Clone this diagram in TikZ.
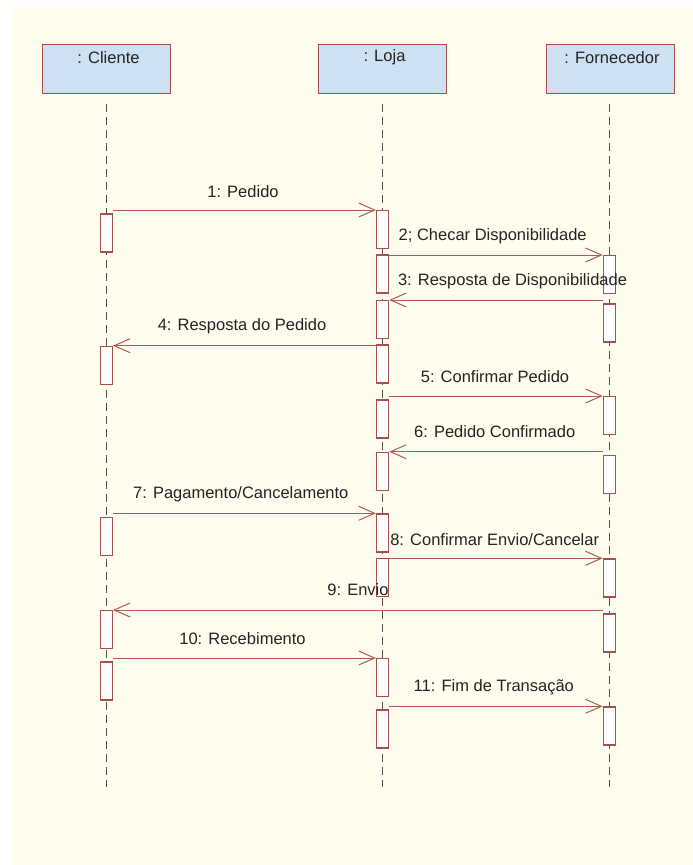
\documentclass[tikz,border=0pt]{standalone}
\usepackage{fontspec}
\setmainfont{Liberation Sans}
\usetikzlibrary{arrows.meta,calc}
\definecolor{bgcream}{RGB}{255,253,238}
\definecolor{headblue}{RGB}{206,225,242}
\definecolor{boxred}{RGB}{168,78,78}
\definecolor{msgred}{RGB}{178,88,88}
\definecolor{lifegray}{RGB}{80,80,80}
\definecolor{txtgray}{RGB}{35,35,35}
\begin{document}
\begin{tikzpicture}[x=1pt,y=-1pt,
  headbox/.style={draw=boxred, fill=headblue, line width=1pt, minimum width=128pt, minimum height=49pt, inner sep=0pt, anchor=north west},
  headtext/.style={font=\fontsize{16.5}{20}\selectfont, text=txtgray, inner sep=0pt},
  actbox/.style={draw=boxred, fill=white, line width=1.2pt, minimum width=12pt, minimum height=38pt, inner sep=0pt, anchor=north},
  lifeline/.style={draw=lifegray, line width=1pt, dash pattern=on 8pt off 5pt},
  msg/.style={draw=msgred, line width=1pt, -{Straight Barb[length=16pt,width=14pt]}},
  msglabel/.style={font=\fontsize{16.5}{20}\selectfont, text=txtgray, inner sep=0pt}
]
\useasboundingbox (0,0) rectangle (693,865);
\fill[bgcream] (11,7) rectangle (693,865);

% heads
\node[headbox] (h1) at (42,44) {};
\node[headbox] (h2) at (318,44) {};
\node[headbox] (h3) at (545.5,44) {};
\node[headtext] (t1) at ($(h1.north)+(2,13.3)$) {: Cliente};
\node[headtext] (t2) at ($(h2.north)+(2,13.3)$) {: Loja};
\node[headtext] (t3) at ($(h3.north)+(2,13.3)$) {: Fornecedor};

% lifelines
\coordinate (e1) at (106.5,787);
\coordinate (e2) at (382.5,787);
\coordinate (e3) at (609.5,787);
\coordinate (s1) at (106.5,103.5);
\coordinate (s2) at (382.5,103.5);
\coordinate (s3) at (609.5,103.5);
\draw[lifeline] (s1) -- (e1);
\draw[lifeline] (s2) -- (e2);
\draw[lifeline] (s3) -- (e3);

% activation boxes: Cliente
\node[actbox] (c1) at (106.3,213.3) {};
\node[actbox] (c2) at (106.3,345.7) {};
\node[actbox] (c3) at (106.3,516.7) {};
\node[actbox] (c4) at (106.3,610) {};
\node[actbox] (c5) at (106.3,661.3) {};
% Loja
\node[actbox] (l1) at (382.5,210) {};
\node[actbox] (l2) at (382.5,254.3) {};
\node[actbox] (l3) at (382.5,300) {};
\node[actbox] (l4) at (382.5,344.3) {};
\node[actbox] (l5) at (382.5,399.3) {};
\node[actbox] (l6) at (382.5,451.7) {};
\node[actbox] (l7) at (382.5,513.3) {};
\node[actbox] (l8) at (382.5,557.7) {};
\node[actbox] (l9) at (382.5,658) {};
\node[actbox] (l10) at (382.5,709.3) {};
% Fornecedor
\node[actbox] (f1) at (609.3,255) {};
\node[actbox] (f2) at (609.3,303.3) {};
\node[actbox] (f3) at (609.3,396) {};
\node[actbox] (f4) at (609.3,454.7) {};
\node[actbox] (f5) at (609.3,558.3) {};
\node[actbox] (f6) at (609.3,613.3) {};
\node[actbox] (f7) at (609.3,706.3) {};

% messages
\draw[msg] (l1.north west -| c1.east) -- (l1.north west);
\draw[msg] (f1.north west -| l2.east) -- (f1.north west);
\draw[msg] (l3.north east -| f2.west) -- (l3.north east);
\draw[msg] (c2.north east -| l4.west) -- (c2.north east);
\draw[msg] (f3.north west -| l5.east) -- (f3.north west);
\draw[msg] (l6.north east -| f4.west) -- (l6.north east);
\draw[msg] (l7.north west -| c3.east) -- (l7.north west);
\draw[msg] (f5.north west -| l8.east) -- (f5.north west);
\draw[msg] (c4.north east -| f6.west) -- (c4.north east);
\draw[msg] (l9.north west -| c5.east) -- (l9.north west);
\draw[msg] (f7.north west -| l10.east) -- (f7.north west);

% labels
\node[msglabel] (m1) at (243,191.7) {1: Pedido};
\node[msglabel] (m2) at (492.7,236.7) {2; Checar Disponibilidade};
\node[msglabel] (m3) at (512.5,281.7) {3: Resposta de Disponibilidade};
\node[msglabel] (m4) at (242,326) {4: Resposta do Pedido};
\node[msglabel] (m5) at (495,376.7) {5: Confirmar Pedido};
\node[msglabel] (m6) at (494.7,431.7) {6: Pedido Confirmado};
\node[msglabel] (m7) at (240.8,494) {7: Pagamento/Cancelamento};
\node[msglabel] (m8) at (494.7,539.3) {8: Confirmar Envio/Cancelar};
\node[msglabel] (m9) at (358,590) {9: Envio};
\node[msglabel] (m10) at (242.5,638.3) {10: Recebimento};
\node[msglabel] (m11) at (493.8,687.3) {11: Fim de Transação};
\end{tikzpicture}
\end{document}
